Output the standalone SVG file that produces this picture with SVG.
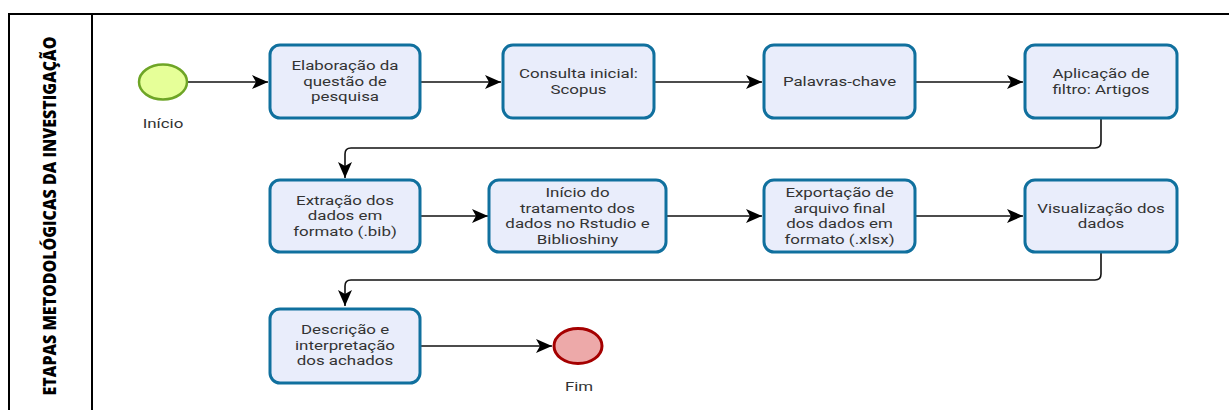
<svg xmlns="http://www.w3.org/2000/svg" width="1229" height="410" viewBox="0 0 1229 410">
<defs>
<style>
.frame{fill:none;stroke:#000;stroke-width:2}
.task{fill:#e9edfb;stroke:#10709e;stroke-width:3}
.txt{font-family:Roboto,"Liberation Sans",sans-serif;font-size:13px;fill:#333;text-anchor:middle}
.conn{fill:none;stroke:#111;stroke-width:1.6}
.title{font-family:"Open Sans","Noto Sans",sans-serif;font-weight:800;font-size:17px;fill:#000;text-anchor:middle}
</style>
<marker id="arr" markerUnits="userSpaceOnUse" markerWidth="18" markerHeight="14" refX="16" refY="7" orient="auto">
<path d="M0,0 L16,7 L0,14 L4,7 Z" fill="#000"/>
</marker>
</defs>
<rect width="1229" height="410" fill="#fff"/>
<g id="pool">
<path class="frame" d="M9,412 L9,14 L1229,14 M92,14 L92,412"/>
<text class="title" transform="translate(55.5,216) rotate(-90) scale(0.94,1)">ETAPAS METODOLÓGICAS DA INVESTIGAÇÃO</text>
</g>
<g id="connectors">
<path class="conn" d="M188,82 L268,82" marker-end="url(#arr)"/>
<path class="conn" d="M420,82 L501,82" marker-end="url(#arr)"/>
<path class="conn" d="M653,82 L762,82" marker-end="url(#arr)"/>
<path class="conn" d="M915,82 L1023,82" marker-end="url(#arr)"/>
<path class="conn" d="M1101,118 L1101,142 Q1101,148 1095,148 L351,148 Q345,148 345,154 L345,178" marker-end="url(#arr)"/>
<path class="conn" d="M420,216 L488,216" marker-end="url(#arr)"/>
<path class="conn" d="M666,216 L762,216" marker-end="url(#arr)"/>
<path class="conn" d="M915,216 L1023,216" marker-end="url(#arr)"/>
<path class="conn" d="M1101,252 L1101,274 Q1101,280 1095,280 L351,280 Q345,280 345,286 L345,306" marker-end="url(#arr)"/>
<path class="conn" d="M420,346 L552,346" marker-end="url(#arr)"/>
</g>
<g id="inicio">
<ellipse cx="163" cy="82" rx="24" ry="17.5" fill="#e6ff98" stroke="#6ea526" stroke-width="2.5"/>
<text class="txt" transform="matrix(1.3 0 0 1 163 0)" x="0" y="128.5">Início</text>
</g>
<g id="n1">
<rect class="task" x="270" y="45" width="150" height="73" rx="10"/>
<text class="txt" transform="matrix(1.3 0 0 1 345 0)"><tspan x="0" y="70.5">Elaboração da</tspan><tspan x="0" y="86">questão de</tspan><tspan x="0" y="101.5">pesquisa</tspan></text>
</g>
<g id="n2">
<rect class="task" x="503" y="45" width="151" height="73" rx="10"/>
<text class="txt" transform="matrix(1.3 0 0 1 578.5 0)"><tspan x="0" y="78.25">Consulta inicial:</tspan><tspan x="0" y="93.75">Scopus</tspan></text>
</g>
<g id="n3">
<rect class="task" x="764" y="45" width="151" height="73" rx="10"/>
<text class="txt" transform="matrix(1.3 0 0 1 839.5 0)" x="0" y="86">Palavras-chave</text>
</g>
<g id="n4">
<rect class="task" x="1025" y="45" width="152" height="73" rx="10"/>
<text class="txt" transform="matrix(1.3 0 0 1 1101 0)"><tspan x="0" y="78.25">Aplicação de</tspan><tspan x="0" y="93.75">filtro: Artigos</tspan></text>
</g>
<g id="n5">
<rect class="task" x="270" y="180" width="150" height="72" rx="10"/>
<text class="txt" transform="matrix(1.3 0 0 1 345 0)"><tspan x="0" y="205">Extração dos</tspan><tspan x="0" y="220.5">dados em</tspan><tspan x="0" y="236">formato (.bib)</tspan></text>
</g>
<g id="n6">
<rect class="task" x="489" y="180" width="177" height="72" rx="10"/>
<text class="txt" transform="matrix(1.3 0 0 1 577.5 0)"><tspan x="0" y="197.25">Início do</tspan><tspan x="0" y="212.75">tratamento dos</tspan><tspan x="0" y="228.25">dados no Rstudio e</tspan><tspan x="0" y="243.75">Biblioshiny</tspan></text>
</g>
<g id="n7">
<rect class="task" x="764" y="180" width="151" height="72" rx="10"/>
<text class="txt" transform="matrix(1.3 0 0 1 839.5 0)"><tspan x="0" y="197.25">Exportação de</tspan><tspan x="0" y="212.75">arquivo final</tspan><tspan x="0" y="228.25">dos dados em</tspan><tspan x="0" y="243.75">formato (.xlsx)</tspan></text>
</g>
<g id="n8">
<rect class="task" x="1025" y="180" width="152" height="72" rx="10"/>
<text class="txt" transform="matrix(1.3 0 0 1 1101 0)"><tspan x="0" y="212.75">Visualização dos</tspan><tspan x="0" y="228.25">dados</tspan></text>
</g>
<g id="n9">
<rect class="task" x="270" y="309" width="150" height="74" rx="10"/>
<text class="txt" transform="matrix(1.3 0 0 1 345 0)"><tspan x="0" y="334.5">Descrição e</tspan><tspan x="0" y="350">interpretação</tspan><tspan x="0" y="365.5">dos achados</tspan></text>
</g>
<g id="fim">
<ellipse cx="578" cy="346" rx="24" ry="17.5" fill="#eda9a9" stroke="#a50000" stroke-width="3"/>
<text class="txt" transform="matrix(1.3 0 0 1 579 0)" x="0" y="391.5">Fim</text>
</g>
</svg>
